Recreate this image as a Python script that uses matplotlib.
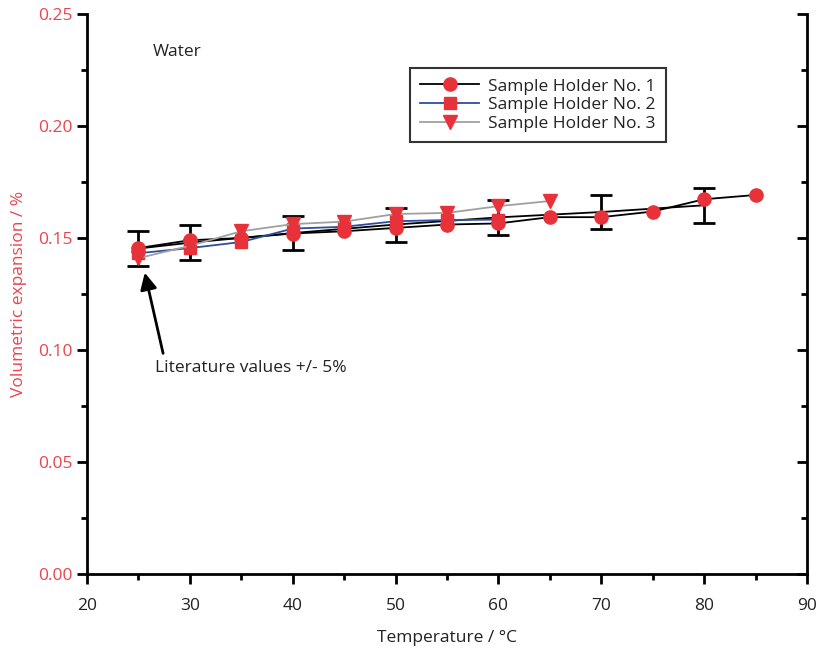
import matplotlib
matplotlib.use("Agg")
import matplotlib.pyplot as plt
from matplotlib.ticker import MultipleLocator

plt.rcParams['font.family'] = ['Open Sans', 'DejaVu Sans']

# Literature values (+/- 5 %)
lit_T = [25, 30, 40, 50, 60, 70, 80]
lit_v = [0.1453, 0.1479, 0.1522, 0.1560, 0.1592, 0.1616, 0.1646]
lit_err = [0.0077, 0.0078, 0.0077, 0.0076, 0.0078, 0.0078, 0.0077]

s1_T = [25, 30, 35, 40, 45, 50, 55, 60, 65, 70, 75, 80, 85]
s1_v = [0.1455, 0.1490, 0.1500, 0.1520, 0.1530, 0.1545, 0.1560, 0.1565,
        0.1593, 0.1593, 0.1618, 0.1673, 0.1692]

s2_T = [25, 30, 35, 40, 45, 50, 55, 60]
s2_v = [0.1432, 0.1455, 0.1482, 0.1542, 0.1550, 0.1575, 0.1580, 0.1582]

s3_T = [25, 30, 35, 40, 45, 50, 55, 60, 65]
s3_v = [0.1410, 0.1465, 0.1530, 0.1562, 0.1573, 0.1607, 0.1612, 0.1642, 0.1665]

labels = ["Sample Holder No. 1", "Sample Holder No. 2", "Sample Holder No. 3"]

red = '#e8323a'
label_red = '#e8454f'
txt = '#222222'

fig = plt.figure(figsize=(8.22, 6.5), dpi=100)
ax = fig.add_axes([0.1058, 0.1169, 0.8760, 0.8616])

# literature line with error bars
ax.errorbar(lit_T, lit_v, yerr=lit_err, color='black', lw=1.3,
            ecolor='black', elinewidth=2, capsize=8, capthick=2, zorder=2)

l1, = ax.plot(s1_T, s1_v, color='black', lw=1.3, marker='o', ms=9.5,
              mfc=red, mec=red, label=labels[0], zorder=3)
l2, = ax.plot(s2_T, s2_v, color='#2b4f9e', lw=1.3, marker='s', ms=9,
              mfc=red, mec=red, label=labels[1], zorder=4)
l3, = ax.plot(s3_T, s3_v, color='#a0a0a0', lw=1.3, marker='v', ms=9.5,
              mfc=red, mec=red, label=labels[2], zorder=5)

ax.set_xlim(20, 90)
ax.set_ylim(0, 0.25)
ax.xaxis.set_major_locator(MultipleLocator(10))
ax.xaxis.set_minor_locator(MultipleLocator(5))
ax.yaxis.set_major_locator(MultipleLocator(0.05))
ax.yaxis.set_minor_locator(MultipleLocator(0.025))
ax.yaxis.set_major_formatter(matplotlib.ticker.FormatStrFormatter('%.2f'))

for s in ['left', 'bottom', 'right']:
    ax.spines[s].set_linewidth(2)
ax.spines['top'].set_visible(False)

ax.tick_params(axis='both', which='major', direction='out', length=7, width=2,
               labelsize=12.5, colors='black')
ax.tick_params(axis='both', which='minor', direction='out', length=4, width=2)
ax.tick_params(axis='y', which='both', right=True, labelcolor=label_red, pad=3)
ax.tick_params(axis='x', labelcolor=txt, pad=10)

# right spine ticks inward
for t in ax.yaxis.get_major_ticks():
    t.tick2line.set_marker(matplotlib.lines.TICKLEFT)
    t.tick2line.set_markersize(7)
for t in ax.yaxis.get_minor_ticks():
    t.tick2line.set_marker(matplotlib.lines.TICKLEFT)
    t.tick2line.set_markersize(4)

ax.set_xlabel("Temperature / °C", fontsize=12.5, color=txt, labelpad=12)
ax.set_ylabel("Volumetric expansion / %", fontsize=12.5, color=label_red, labelpad=8)

ax.text(26.4, 0.233, "Water", fontsize=12.5, color=txt, va='center', ha='left')
ax.annotate("", xy=(25.62, 0.1345), xytext=(27.4, 0.0985),
            arrowprops=dict(arrowstyle='-|>', color='black', lw=2,
                            mutation_scale=25, shrinkA=0, shrinkB=0))
ax.text(26.6, 0.092, "Literature values +/- 5%", fontsize=12.5, color=txt,
        va='center', ha='left')

leg = ax.legend(handles=[l1, l2, l3], loc='upper left',
                bbox_to_anchor=(0.4486, 0.9036), borderaxespad=0,
                fontsize=12.5, frameon=True, markerscale=1.0,
                fancybox=False, edgecolor='black', handlelength=3.4,
                borderpad=0.6, labelspacing=0.15, handletextpad=0.5)
leg.get_frame().set_linewidth(1.5)
for t in leg.get_texts():
    t.set_color(txt)

fig.savefig("out.png", dpi=100)
